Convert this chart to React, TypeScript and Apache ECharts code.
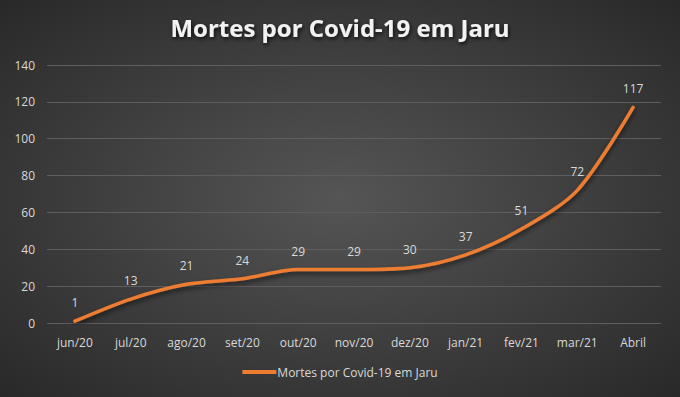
import React, { useEffect, useRef } from "react";
import * as echarts from "echarts";

const categories = ["jun/20", "jul/20", "ago/20", "set/20", "out/20", "nov/20", "dez/20", "jan/21", "fev/21", "mar/21", "Abril"];
const deaths = [1, 13, 21, 24, 29, 29, 30, 37, 51, 72, 117];
const seriesName = "Mortes por Covid-19 em Jaru";
const titleText = "Mortes por Covid-19 em Jaru";

export default function App() {
  const ref = useRef<HTMLDivElement>(null);
  useEffect(() => {
    const chart = echarts.init(ref.current!, null, { renderer: "svg" });
    const font = "Open Sans";
    chart.setOption({
      animation: false,
      backgroundColor: {
        type: "radial",
        x: 0.5,
        y: 0.5,
        r: 0.75,
        colorStops: [
          { offset: 0, color: "#555555" },
          { offset: 1, color: "#262626" },
        ],
      },
      title: {
        text: titleText,
        left: "center",
        top: 10,
        textStyle: {
          color: "#f2f2f2",
          fontSize: 24,
          fontWeight: "bold",
          fontFamily: font,
          textShadowColor: "rgba(0,0,0,0.8)",
          textShadowBlur: 4,
          textShadowOffsetX: 1,
          textShadowOffsetY: 2,
        },
      },
      legend: {
        bottom: 14,
        left: "center",
        itemWidth: 34,
        itemHeight: 4,
        itemGap: 4,
        icon: "rect",
        itemStyle: { color: "#ED7D31", opacity: 1 },
        textStyle: { color: "#d9d9d9", fontSize: 12, fontFamily: font, padding: [0, 0, 0, -4] },
        data: [{ name: seriesName, icon: "rect", itemStyle: { color: "#ED7D31", opacity: 1 } }],
      },
      grid: { left: 47, right: 19, top: 65, bottom: 74, containLabel: false },
      xAxis: {
        type: "category",
        data: categories,
        boundaryGap: true,
        axisLine: { show: false },
        axisTick: { show: false },
        axisLabel: { color: "#d9d9d9", fontSize: 12, fontFamily: font, margin: 13 },
      },
      yAxis: {
        type: "value",
        min: 0,
        max: 140,
        interval: 20,
        axisLine: { show: false },
        axisTick: { show: false },
        axisLabel: { color: "#d9d9d9", fontSize: 12, fontFamily: font, margin: 12 },
        splitLine: { lineStyle: { color: "#5e5e5e", width: 1 } },
      },
      series: [
        {
          name: seriesName,
          type: "line",
          data: deaths,
          smooth: 0.3,
          showSymbol: true,
          symbol: "circle",
          symbolSize: 1,
          lineStyle: {
            color: "#ED7D31",
            width: 3.5,
            cap: "round",
            shadowColor: "rgba(0,0,0,0.6)",
            shadowBlur: 5,
            shadowOffsetY: 3,
          },
          itemStyle: { color: "#ED7D31", opacity: 0 },
          label: {
            show: true,
            position: "top",
            distance: 12,
            color: "#d9d9d9",
            fontSize: 12,
            fontFamily: font,
            opacity: 1,
          },
        },
      ],
    });
    return () => chart.dispose();
  }, []);
  return <div ref={ref} style={{ width: 680, height: 397, position: "absolute", left: 0, top: 0 }} />;
}
